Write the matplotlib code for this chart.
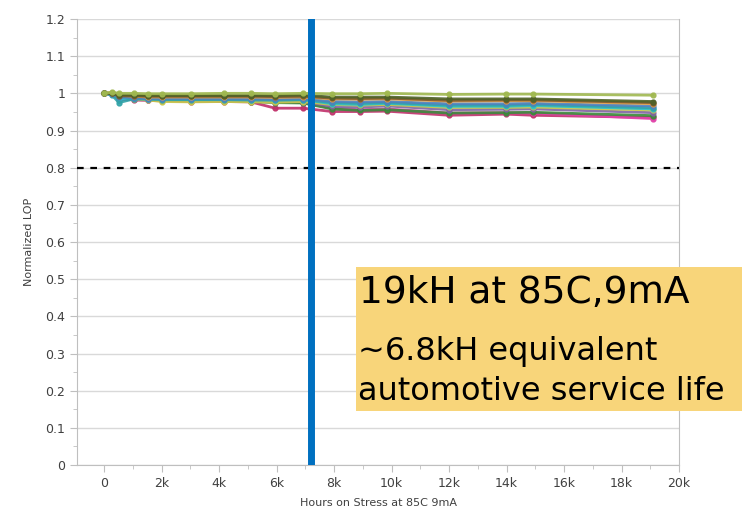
import matplotlib.pyplot as plt
from matplotlib.patches import Rectangle
from matplotlib.ticker import MultipleLocator, FuncFormatter

# stress read-out times (hours)
hours = [0, 280, 520, 1040, 1530, 2000, 3030, 4170, 5110, 5950, 6920,
         7930, 8900, 9840, 12000, 13980, 14920, 19100]

# normalized LOP per device
olive = [1.0, 1.003, 1.0, 1.0, 0.999, 0.999, 0.999, 1.0, 1.0, 0.999, 1.0,
         0.999, 0.999, 1.0, 0.997, 0.998, 0.998, 0.995]
dkgreen = [1.0, 1.0, 0.996, 0.995, 0.994, 0.994, 0.994, 0.994, 0.994, 0.994, 0.995,
           0.99, 0.99, 0.99, 0.985, 0.985, 0.985, 0.978]
brown = [1.0, 1.0, 0.993, 0.993, 0.992, 0.992, 0.992, 0.992, 0.992, 0.991, 0.992,
         0.987, 0.986, 0.987, 0.981, 0.982, 0.982, 0.975]
orange = [1.0, 1.002, 0.995, 0.992, 0.99, 0.99, 0.99, 0.99, 0.99, 0.989, 0.99,
          0.985, 0.984, 0.985, 0.979, 0.98, 0.98, 0.972]
blue = [1.0, 0.999, 0.99, 0.988, 0.986, 0.986, 0.986, 0.985, 0.985, 0.984, 0.986,
        0.978, 0.977, 0.978, 0.972, 0.972, 0.973, 0.966]
teal = [1.0, 0.995, 0.975, 0.985, 0.984, 0.983, 0.983, 0.983, 0.982, 0.982, 0.983,
        0.975, 0.973, 0.975, 0.968, 0.968, 0.97, 0.961]
cyan = [1.0, 0.998, 0.985, 0.987, 0.985, 0.985, 0.984, 0.984, 0.983, 0.982, 0.983,
        0.972, 0.97, 0.973, 0.965, 0.965, 0.967, 0.958]
yellow = [1.0, 1.001, 0.99, 0.985, 0.982, 0.978, 0.977, 0.978, 0.977, 0.976, 0.978,
          0.97, 0.968, 0.97, 0.962, 0.962, 0.963, 0.955]
purple = [1.0, 0.997, 0.982, 0.984, 0.983, 0.981, 0.98, 0.98, 0.979, 0.978, 0.978,
          0.965, 0.963, 0.966, 0.956, 0.957, 0.958, 0.948]
green = [1.0, 0.999, 0.988, 0.986, 0.984, 0.982, 0.98, 0.98, 0.978, 0.975, 0.974,
         0.958, 0.954, 0.956, 0.947, 0.948, 0.949, 0.94]
pink = [1.0, 0.997, 0.985, 0.984, 0.983, 0.981, 0.98, 0.979, 0.978, 0.977, 0.975,
        0.96, 0.956, 0.958, 0.947, 0.948, 0.947, 0.932]
crimson = [1.0, 0.998, 0.988, 0.982, 0.981, 0.98, 0.978, 0.978, 0.977, 0.96, 0.96,
           0.951, 0.951, 0.952, 0.941, 0.944, 0.941, 0.935]

series = [
    (crimson, '#C0306A'), (pink, '#E040A8'), (green, '#3A8A3A'),
    (purple, '#8064A2'), (yellow, '#C9C94A'), (cyan, '#2CC0D0'),
    (teal, '#31A3A8'), (blue, '#4F81BD'), (orange, '#E8A040'),
    (brown, '#7F5A30'), (dkgreen, '#4F6228'), (olive, '#A0B850'),
]

stress_hours = 7200   # blue marker line
spec_limit = 0.8

fig = plt.figure(figsize=(7.43, 5.19), dpi=100)
ax = fig.add_axes([0.1036, 0.104, 0.8103, 0.8594])

for vals, col in series:
    ax.plot(hours, vals, color=col, lw=2, marker='o', ms=3.5, alpha=0.9, zorder=3)

ax.axhline(spec_limit, color='black', ls=(0, (3, 3)), lw=1.6, zorder=4)
ax.axvline(stress_hours, color='#0070C0', lw=5, zorder=5)

ax.set_xlim(-940, 20000)
ax.set_ylim(0, 1.2)
ax.yaxis.set_major_locator(MultipleLocator(0.1))
ax.yaxis.set_minor_locator(MultipleLocator(0.05))
ax.xaxis.set_major_locator(MultipleLocator(2000))
ax.xaxis.set_minor_locator(MultipleLocator(1000))
ax.xaxis.set_major_formatter(FuncFormatter(lambda v, p: '0' if v == 0 else f'{int(v/1000)}k'))
ax.yaxis.set_major_formatter(FuncFormatter(lambda v, p: f'{v:g}'))
ax.grid(axis='y', color='#D9D9D9', lw=1)
ax.set_axisbelow(True)

for s in ['left', 'bottom', 'right']:
    ax.spines[s].set_color('#BFBFBF')
ax.spines['top'].set_visible(False)
ax.tick_params(which='both', colors='#BFBFBF', labelcolor='#404040', labelsize=9)
ax.tick_params(which='major', length=5)
ax.tick_params(which='minor', length=3)

ax.set_ylabel('Normalized LOP', fontsize=8, color='#404040', labelpad=8)
ax.set_xlabel('Hours on Stress at 85C 9mA', fontsize=8, color='#404040', labelpad=6)

# annotation box
fig.patches.append(Rectangle((356 / 743, 1 - 411 / 519), 386 / 743, 144 / 519,
                             transform=fig.transFigure, facecolor='#F8D57A',
                             edgecolor='none', zorder=10))
fig.text(359 / 743, 1 - 303 / 519, '19kH at 85C,9mA', fontsize=27,
         va='baseline', zorder=11)
fig.text(358 / 743, 1 - 360 / 519, '~6.8kH equivalent', fontsize=23,
         va='baseline', zorder=11)
fig.text(358 / 743, 1 - 400 / 519, 'automotive service life', fontsize=23,
         va='baseline', zorder=11)

fig.savefig('out.png', dpi=100)
